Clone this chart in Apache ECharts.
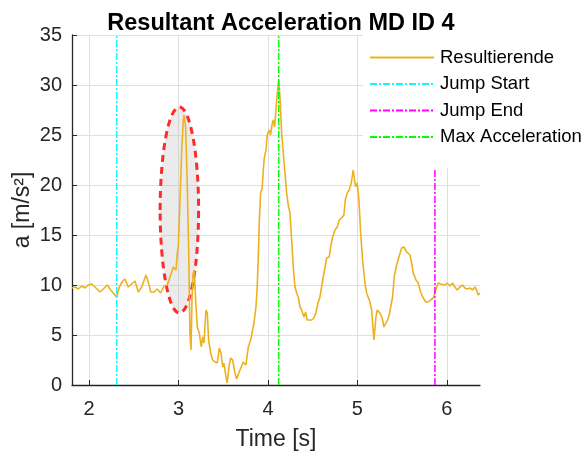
<!DOCTYPE html>
<html>
<head>
<meta charset="utf-8">
<script src="https://cdn.jsdelivr.net/npm/echarts@6/dist/echarts.min.js"></script>
<style>
  html, body { margin: 0; padding: 0; background: #fff; }
</style>
</head>
<body>
<div id="main" style="width: 587px;height:453px;"></div>
<script>
// time [s] and resultant acceleration [m/s²]
const time = [
  1.81, 1.844, 1.88, 1.918, 1.955, 1.992, 2.03, 2.067, 2.123, 2.16, 2.204, 2.242, 2.279, 2.309,
  2.339, 2.377, 2.402, 2.439, 2.488, 2.514, 2.551, 2.589, 2.637, 2.663, 2.689, 2.726, 2.763,
  2.801, 2.838, 2.875, 2.924, 2.942, 2.972, 2.987, 2.998, 3.017, 3.036, 3.054, 3.061, 3.08,
  3.098, 3.114, 3.128, 3.14, 3.151, 3.165, 3.177, 3.192, 3.21, 3.232, 3.255, 3.27, 3.285,
  3.307, 3.322, 3.337, 3.36, 3.382, 3.408, 3.434, 3.456, 3.475, 3.494, 3.508, 3.531, 3.545,
  3.564, 3.583, 3.606, 3.628, 3.65, 3.687, 3.724, 3.754, 3.78, 3.807, 3.829, 3.844, 3.866,
  3.88, 3.892, 3.903, 3.918, 3.936, 3.948, 3.959, 3.978, 3.992, 4.015, 4.03, 4.045, 4.059,
  4.075, 4.089, 4.108, 4.12, 4.134, 4.153, 4.171, 4.19, 4.209, 4.227, 4.246, 4.265, 4.283,
  4.302, 4.321, 4.339, 4.358, 4.377, 4.402, 4.421, 4.439, 4.461, 4.488, 4.514, 4.536, 4.559,
  4.581, 4.6, 4.618, 4.637, 4.656, 4.685, 4.701, 4.723, 4.749, 4.774, 4.797, 4.823, 4.849,
  4.864, 4.886, 4.908, 4.931, 4.953, 4.964, 4.98, 4.998, 5.017, 5.036, 5.058, 5.084, 5.103,
  5.121, 5.14, 5.159, 5.184, 5.207, 5.222, 5.251, 5.277, 5.296, 5.318, 5.337, 5.355, 5.374,
  5.393, 5.411, 5.438, 5.464, 5.494, 5.52, 5.55, 5.587, 5.606, 5.624, 5.654, 5.679, 5.706,
  5.735, 5.765, 5.791, 5.818, 5.847, 5.866, 5.885, 5.903, 5.93, 5.952, 5.978, 6.003, 6.034,
  6.064, 6.089, 6.115, 6.145, 6.175, 6.201, 6.227, 6.257, 6.287, 6.313, 6.332, 6.35, 6.369
];
const resultant = [
  9.7, 9.8, 9.6, 9.9, 9.7, 10.0, 10.1, 9.8, 9.3, 9.6, 10.0, 9.5, 9.1, 8.8,
  9.8, 10.4, 10.6, 9.8, 10.2, 10.4, 9.3, 9.8, 11.0, 10.3, 9.3, 9.3, 9.6,
  9.2, 9.9, 10.0, 11.3, 11.8, 11.5, 13.2, 13.8, 18.5, 23.5, 26.5, 27.0, 25.8,
  20.2, 13.5, 5.2, 3.5, 8.5, 11.2, 11.5, 8.5, 5.8, 5.2, 3.8, 4.8, 4.2,
  7.5, 7.2, 4.5, 3.2, 2.5, 2.3, 2.2, 3.7, 3.2, 1.8, 2.2, 0.8, 0.2,
  1.8, 2.7, 2.5, 1.3, 0.6, 1.5, 2.3, 2.0, 3.8, 4.5, 4.7, 6.2, 7.8,
  9.8, 12.8, 16.2, 19.2, 19.7, 21.5, 22.7, 23.5, 25.0, 25.5, 25.0, 26.0, 26.5,
  25.8, 27.5, 29.5, 30.5, 28.8, 25.2, 23.2, 21.2, 19.2, 18.0, 17.2, 14.5, 11.8,
  9.8, 9.2, 8.8, 7.8, 7.5, 6.8, 7.3, 6.5, 6.7, 6.5, 6.7, 7.2, 8.2,
  8.8, 9.8, 10.8, 11.7, 12.7, 12.8, 13.8, 14.8, 15.5, 15.8, 16.5, 16.7, 17.0,
  18.5, 19.2, 19.5, 20.2, 21.5, 21.7, 19.8, 20.2, 18.5, 15.2, 12.5, 10.2, 9.2,
  9.3, 8.3, 7.5, 4.5, 6.8, 7.5, 7.2, 6.7, 5.8, 5.7, 6.5, 7.0, 7.2,
  8.8, 10.8, 12.0, 12.8, 13.7, 13.8, 13.3, 13.0, 12.2, 11.2, 10.5, 10.2, 9.3,
  8.7, 8.3, 8.3, 8.5, 8.7, 9.2, 9.8, 10.2, 10.1, 10.2, 10.0, 10.2, 9.9,
  10.2, 9.8, 9.5, 9.8, 10.0, 9.7, 9.6, 9.7, 9.5, 9.8, 9.5, 9.0, 9.2
];
const jumpStart = 2.31;
const jumpEnd = 5.866;
const maxAcceleration = 4.12;
const xTicks = [2, 3, 4, 5, 6];
const yTicks = [0, 5, 10, 15, 20, 25, 30, 35];
// highlighted region: centre time, centre value, half width [s], half height
const highlight = [3.01, 17.5, 0.215, 10.3];

const myChart = echarts.init(document.getElementById('main'));

const lineData = time.map((t, i) => [t, resultant[i]]);
const yMin = yTicks[0];
const yMax = yTicks[yTicks.length - 1];
const vLine = (x) => [[x, yMin], [x, yMax]];
const dashDot = [7, 2, 2, 2];
const font = 'Liberation Sans, Arial, sans-serif';

const option = {
  animation: false,
  backgroundColor: '#fff',
  title: {
    text: 'Resultant Acceleration MD ID 4',
    left: 276,
    textAlign: 'center',
    top: 7,
    textStyle: { fontFamily: font, fontSize: 23.5, fontWeight: 'bold', color: '#000' }
  },
  grid: { left: 72, right: 107, top: 35, bottom: 68, outerBoundsMode: 'none' },
  legend: {
    data: ['Resultierende', 'Jump Start', 'Jump End', 'Max Acceleration'],
    orient: 'vertical',
    left: 363,
    top: 35,
    padding: [13, 40, 22, 6],
    itemWidth: 64,
    itemHeight: 20,
    itemGap: 7.5,
    backgroundColor: '#fff',
    itemStyle: { opacity: 0 },
    textStyle: { fontFamily: font, fontSize: 18.5, color: '#000', padding: [0, 0, 0, 1] }
  },
  xAxis: {
    type: 'value',
    min: 1.81,
    max: 6.37,
    name: 'Time [s]',
    nameLocation: 'middle',
    nameGap: 43,
    nameTextStyle: { fontFamily: font, fontSize: 23, color: '#262626' },
    axisLine: { show: true, onZero: false, lineStyle: { color: '#262626', width: 1.3 } },
    axisTick: { show: true, inside: true, length: 5, customValues: xTicks, lineStyle: { color: '#262626' } },
    axisLabel: { customValues: xTicks, margin: 14, fontFamily: font, fontSize: 20, color: '#262626' },
    splitLine: { show: true, lineStyle: { color: '#dfdfdf', width: 1 } }
  },
  yAxis: {
    type: 'value',
    min: yMin,
    max: yMax,
    interval: 5,
    name: 'a [m/s²]',
    nameLocation: 'middle',
    nameGap: 38,
    nameMoveOverlap: false,
    nameTextStyle: { fontFamily: font, fontSize: 23, color: '#262626' },
    axisLine: { show: true, lineStyle: { color: '#262626', width: 1.3 } },
    axisTick: { show: true, inside: true, length: 5, lineStyle: { color: '#262626' } },
    axisLabel: { margin: 10, fontFamily: font, fontSize: 20, color: '#262626' },
    splitLine: { show: true, lineStyle: { color: '#dfdfdf', width: 1 } }
  },
  series: [
    {
      name: 'highlight',
      type: 'custom',
      z: 1,
      encode: { x: 0, y: 1 },
      data: [highlight],
      renderItem: function (params, api) {
        const c = api.coord([api.value(0), api.value(1)]);
        const s = api.size([api.value(2), api.value(3)]);
        return {
          type: 'ellipse',
          shape: { cx: c[0], cy: c[1], rx: s[0], ry: s[1] },
          style: { fill: 'rgba(190,190,190,0.3)', stroke: '#ff2a2a', lineWidth: 3, lineDash: [7, 5] }
        };
      }
    },
    {
      name: 'Resultierende',
      type: 'line',
      z: 3,
      showSymbol: false,
      symbol: 'none',
      data: lineData,
      lineStyle: { color: '#EDB120', width: 1.6 },
      itemStyle: { color: '#EDB120' }
    },
    {
      name: 'Jump Start',
      type: 'line',
      symbol: 'none',
      data: vLine(jumpStart),
      lineStyle: { color: '#00FFFF', width: 1.5, type: dashDot },
      itemStyle: { color: '#00FFFF' }
    },
    {
      name: 'Jump End',
      type: 'line',
      symbol: 'none',
      data: vLine(jumpEnd),
      lineStyle: { color: '#FF00FF', width: 1.5, type: dashDot },
      itemStyle: { color: '#FF00FF' }
    },
    {
      name: 'Max Acceleration',
      type: 'line',
      symbol: 'none',
      data: vLine(maxAcceleration),
      lineStyle: { color: '#00FF00', width: 1.5, type: dashDot },
      itemStyle: { color: '#00FF00' }
    }
  ]
};
myChart.setOption(option);
</script>
</body>
</html>
